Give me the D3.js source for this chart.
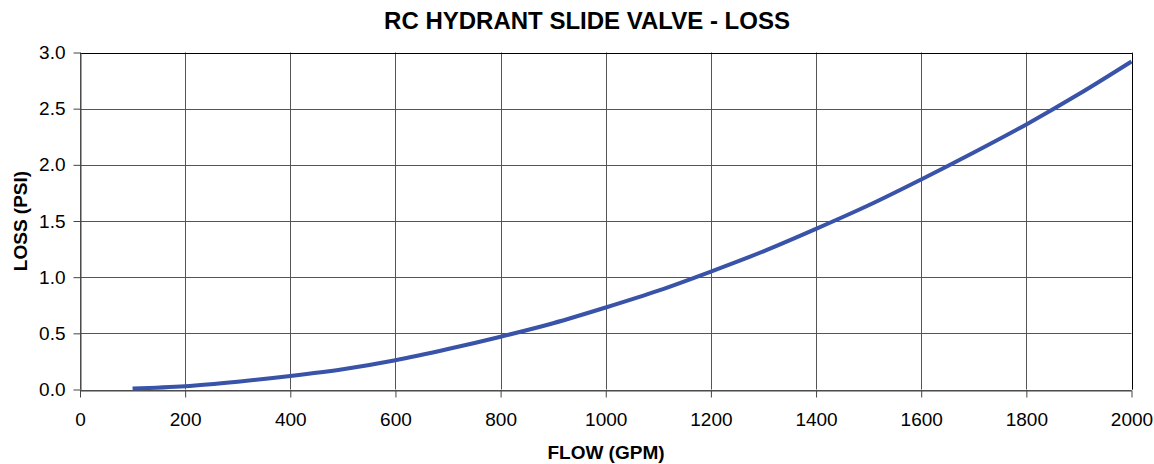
<!DOCTYPE html>
<html>
<head>
<meta charset="utf-8">
<script src="https://cdn.jsdelivr.net/npm/d3@7"></script>
<style>
  body { margin: 0; background: #fff; }
  text { font-family: "Liberation Sans", Arial, sans-serif; fill: #000; }
</style>
</head>
<body>
<svg id="chart" width="1154" height="464"></svg>
<script>
// flow (gpm) vs loss (psi)
const flow = [100, 200, 300, 400, 500, 600, 700, 800, 900, 1000,
              1100, 1200, 1300, 1400, 1500, 1600, 1700, 1800, 1900, 2000];
const loss = [0.01, 0.03, 0.07, 0.12, 0.18, 0.26, 0.36, 0.47, 0.59, 0.73,
              0.88, 1.05, 1.23, 1.43, 1.64, 1.87, 2.11, 2.36, 2.63, 2.92];
const xTicks = [0, 200, 400, 600, 800, 1000, 1200, 1400, 1600, 1800, 2000];
const yTicks = [0, 0.5, 1.0, 1.5, 2.0, 2.5, 3.0];

const svg = d3.select('#chart');
const plotL = 80, plotR = 1131.5, plotT = 52.5, plotB = 389.5;

const x = d3.scaleLinear().domain([0, 2000]).range([plotL, plotR]);
const y = d3.scaleLinear().domain([0, 3]).range([plotB, plotT]);

// grid
svg.append('g')
  .selectAll('line')
  .data(xTicks)
  .enter().append('line')
  .attr('x1', d => Math.round(x(d)) + 0.5).attr('x2', d => Math.round(x(d)) + 0.5)
  .attr('y1', plotT).attr('y2', plotB)
  .attr('stroke', '#555').attr('stroke-width', 1);

svg.append('g')
  .selectAll('line')
  .data(yTicks)
  .enter().append('line')
  .attr('x1', plotL).attr('x2', plotR)
  .attr('y1', d => Math.round(y(d)) + 0.5).attr('y2', d => Math.round(y(d)) + 0.5)
  .attr('stroke', '#555').attr('stroke-width', 1);

// border top/right
svg.append('path')
  .attr('d', `M${plotL},${Math.round(plotT) + 0.5}H${Math.round(plotR) + 0.5}V${plotB}`)
  .attr('fill', 'none').attr('stroke', '#000');

// axes
const xAxis = svg.append('g')
  .attr('transform', `translate(0,${Math.round(plotB) + 0.5})`)
  .call(d3.axisBottom(x).tickValues(xTicks).tickFormat(d3.format('d')).tickSize(7).tickPadding(15).tickSizeOuter(0));
const yAxis = svg.append('g')
  .attr('transform', `translate(${plotL + 0.5},0)`)
  .call(d3.axisLeft(y).tickValues(yTicks).tickFormat(d3.format('.1f')).tickSize(7).tickPadding(8).tickSizeOuter(0));

[xAxis, yAxis].forEach(g => {
  g.selectAll('path, line').attr('stroke', '#444');
  g.selectAll('text').style('font-size', '19px').style('font-family', '"Liberation Sans", Arial, sans-serif');
});

// curve
const line = d3.line()
  .x((d, i) => x(flow[i]))
  .y(d => y(d))
  .curve(d3.curveMonotoneX);

svg.append('path')
  .datum(loss)
  .attr('d', line)
  .attr('fill', 'none')
  .attr('stroke', '#3853a8')
  .attr('stroke-width', 4);

// titles
svg.append('text')
  .attr('x', 587).attr('y', 29)
  .attr('text-anchor', 'middle')
  .style('font-size', '24px').style('font-weight', 'bold')
  .text('RC HYDRANT SLIDE VALVE - LOSS');

svg.append('text')
  .attr('x', 606).attr('y', 459)
  .attr('text-anchor', 'middle')
  .style('font-size', '19px').style('font-weight', 'bold')
  .text('FLOW (GPM)');

svg.append('text')
  .attr('transform', 'translate(27,221) rotate(-90)')
  .attr('text-anchor', 'middle')
  .style('font-size', '19px').style('font-weight', 'bold')
  .text('LOSS (PSI)');
</script>
</body>
</html>
